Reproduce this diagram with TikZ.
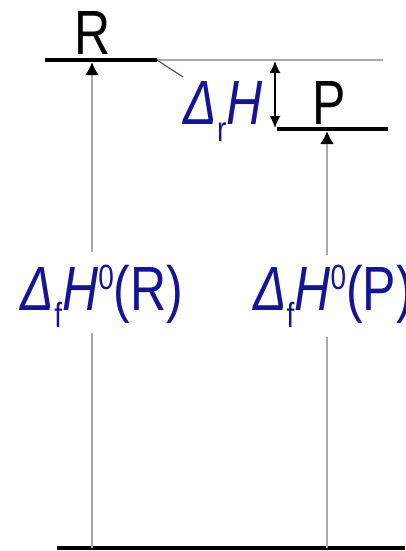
\documentclass[tikz,border=0pt]{standalone}
\usepackage{fontspec}
\setmainfont{Liberation Sans}
\usetikzlibrary{arrows.meta}
\definecolor{lab}{RGB}{20,20,150}
\definecolor{gl}{RGB}{170,170,170}
\newcommand{\mysb}[1]{\raisebox{-0.28em}{\fontsize{28}{28}\selectfont #1}}
\newcommand{\mysp}[1]{\raisebox{0.33em}{\fontsize{28}{28}\selectfont #1}}
\newcommand{\mytx}[1]{\scalebox{1}[1.25]{\fontsize{50}{50}\selectfont #1}}
\begin{document}
\begin{tikzpicture}[x=1pt,y=-1pt,
  level/.style={line width=4pt,black},
  guide/.style={line width=2.4pt,gl},
  uparrow/.style={line width=2.6pt,gl,-{Latex[black,length=13pt,width=14pt]}},
  plainline/.style={line width=2.6pt,gl},
  dharrow/.style={line width=1.5pt,black,{Latex[length=12pt,width=11pt]}-{Latex[length=12pt,width=11pt]}},
  lbl/.style={inner sep=0pt,text=lab},
  spec/.style={inner sep=0pt,text=black}]
\useasboundingbox (0,0) rectangle (405,551);
% coordinates
\coordinate (rl) at (45,60);
\coordinate (rr) at (157,60);
\coordinate (ge) at (383,60);
\coordinate (dg) at (183,77);
\coordinate (pl) at (277,129);
\coordinate (pr) at (388,129);
\coordinate (bl) at (57,548);
\coordinate (br) at (405,548);
\coordinate (rtop) at (92,62);
\coordinate (rga) at (92,252);
\coordinate (rgb) at (92,333);
\coordinate (rbot) at (92,548);
\coordinate (ptop) at (327,131);
\coordinate (pga) at (327,255);
\coordinate (pgb) at (327,337);
\coordinate (pbot) at (327,548);
\coordinate (dht) at (275,61);
\coordinate (dhb) at (275,128);
% lines
\draw[guide] (rr) -- (ge);
\draw[line width=1.2pt,black!65] (rr) -- (dg);
\draw[level] (rl) -- (rr);
\draw[level] (pl) -- (pr);
\draw[level] (bl) -- (br);
\draw[uparrow] (rga) -- (rtop);
\draw[plainline] (rbot) -- (rgb);
\draw[uparrow] (pga) -- (ptop);
\draw[plainline] (pbot) -- (pgb);
\draw[dharrow] (dht) -- (dhb);
% labels
\node[spec,anchor=base] (R) at (93,55) {\mytx{R}};
\node[spec,anchor=base] (P) at (329,124) {\mytx{P}};
\node[lbl,anchor=base] (drH) at (223,124) {\mytx{\textit{Δ}\mysb{r}\textit{H}}};
\node[lbl,anchor=base] (dfR) at (102,310) {\mytx{\textit{Δ}\mysb{f}\textit{H}\mysp{0}(R)}};
\node[lbl,anchor=base west] (dfP) at (253,310) {\mytx{\textit{Δ}\mysb{f}\textit{H}\mysp{0}(P)}};
\end{tikzpicture}
\end{document}
